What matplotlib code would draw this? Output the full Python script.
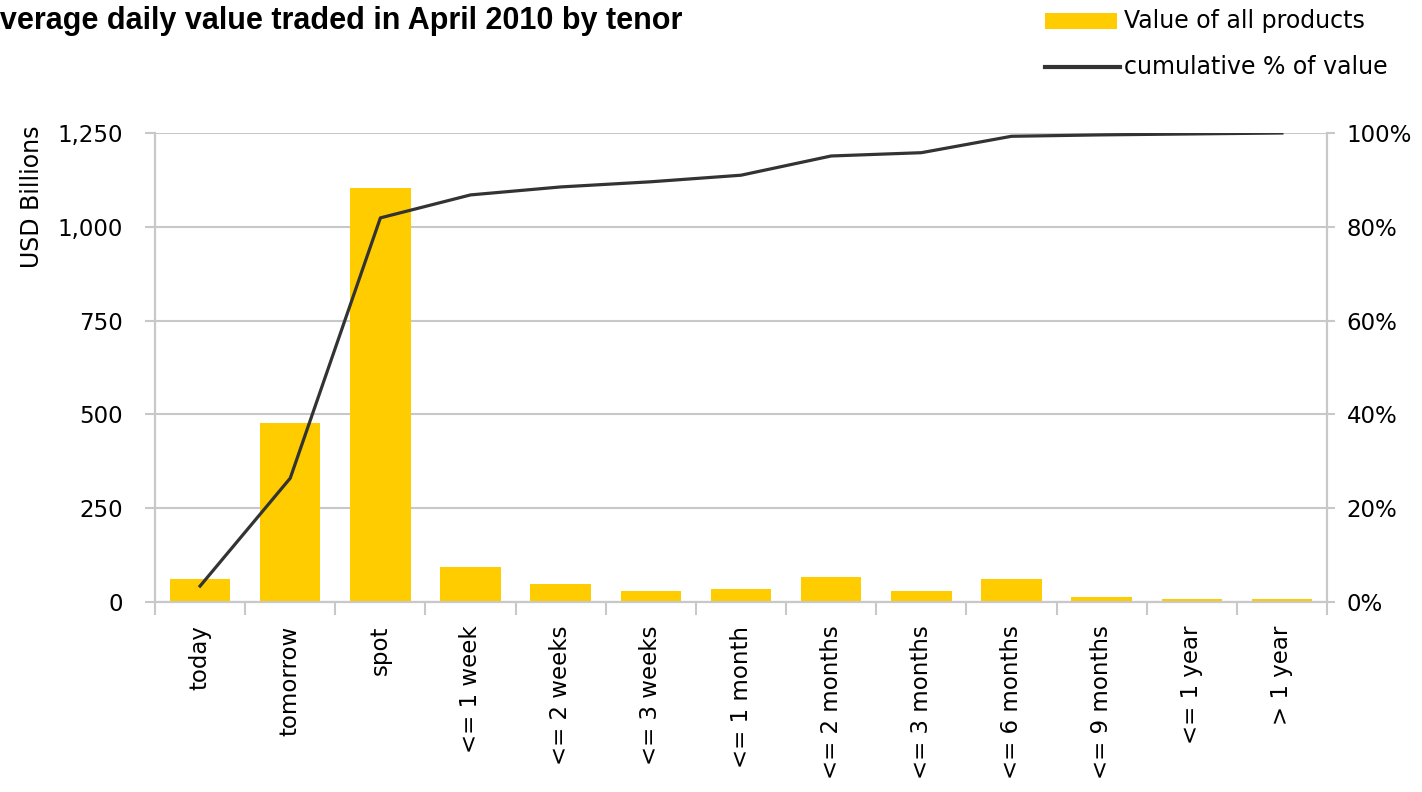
import matplotlib
matplotlib.use("Agg")
import matplotlib.pyplot as plt
from matplotlib.ticker import FuncFormatter, FixedLocator
from matplotlib.patches import Rectangle
from matplotlib.lines import Line2D

plt.rcParams['font.family'] = ['DejaVu Sans']

categories = ["today", "tomorrow", "spot", "<= 1 week", "<= 2 weeks", "<= 3 weeks",
              "<= 1 month", "<= 2 months", "<= 3 months", "<= 6 months", "<= 9 months",
              "<= 1 year", "> 1 year"]
values = [60, 476, 1103, 93, 48, 28, 35, 67, 28, 60, 14, 8, 8]
cumulative_pct = [3.4, 26.4, 81.9, 86.8, 88.5, 89.6, 91.0, 95.1, 95.8, 99.3, 99.6, 99.8, 100.0]
left_ticks = [0, 250, 500, 750, 1000, 1250]
right_ticks = [0, 20, 40, 60, 80, 100]
series_names = ["Value of all products", "cumulative % of value"]

BAR = "#FFCC00"
LINE = "#333333"
GRID = "#C8C8C8"
FS = 16.5

W, H = 1422, 792
fig = plt.figure(figsize=(W/100, H/100), dpi=100)
ax = fig.add_axes([155/W, 1-602/H, (1327-155)/W, (602-133)/H])
ax2 = ax.twinx()

x = list(range(len(categories)))
ax.bar(x, values, width=0.67, color=BAR, zorder=3)
ax.set_xlim(-0.5, len(categories)-0.5)
ax.set_ylim(0, 1250)
ax.set_yticks(left_ticks)
ax.yaxis.set_major_formatter(FuncFormatter(lambda v, p: f"{int(v):,}"))
ax.grid(axis='y', color=GRID, linewidth=1.5, zorder=0)
ax.set_axisbelow(True)

ax.set_xticks(x)
ax.set_xticklabels(categories, rotation=90, fontsize=FS, va='top', ha='center')
ax.xaxis.set_minor_locator(FixedLocator([i-0.5 for i in range(len(categories)+1)]))
ax.tick_params(axis='x', which='major', length=0, pad=17)
ax.tick_params(axis='x', which='minor', length=9, width=1.5, color=GRID, direction='out')
ax.tick_params(axis='y', length=7, width=1.5, color=GRID, labelsize=FS, pad=16)

for a in (ax, ax2):
    a.spines['top'].set_visible(False)
    for s in ['left', 'right', 'bottom']:
        a.spines[s].set_color(GRID)
        a.spines[s].set_linewidth(1.5)

ax2.plot(x, cumulative_pct, color=LINE, linewidth=2.3, zorder=5)
ax2.set_ylim(0, 100)
ax2.set_yticks(right_ticks)
ax2.yaxis.set_major_formatter(FuncFormatter(lambda v, p: f"{int(v)}%"))
ax2.tick_params(axis='y', length=6, width=1.5, color=GRID, labelsize=FS, pad=8)

fig.text(32/W, 1-125/H, "USD Billions", rotation=90, fontsize=17,
         va='top', ha='center')

fig.text(-21/W, 1-21/H, "Average daily value traded in April 2010 by tenor",
         family='Liberation Sans', fontsize=22, fontweight='bold', va='center', ha='left')

# legend (drawn in figure pixels)
fig.patches.append(Rectangle((1045/W, 1-29/H), 72/W, 16/H, facecolor=BAR,
                             edgecolor='none', transform=fig.transFigure, figure=fig))
fig.lines.append(Line2D([1045/W, 1120/W], [1-67/H, 1-67/H], color=LINE, linewidth=3,
                        transform=fig.transFigure, figure=fig))
fig.text(1124/W, 1-21/H, series_names[0], fontsize=17, va='center', ha='left')
fig.text(1124/W, 1-67/H, series_names[1], fontsize=17, va='center', ha='left')

fig.savefig("out.png", dpi=100)
